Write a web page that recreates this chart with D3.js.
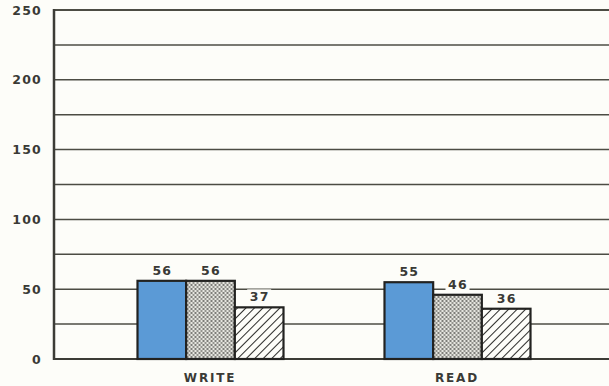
<!DOCTYPE html>
<html>
<head>
<meta charset="utf-8">
<script src="https://cdn.jsdelivr.net/npm/d3@7"></script>
<style>
    body { margin: 0; background: #fdfdf9; }
    svg { display: block; }
    text { font-family: "DejaVu Sans", "Liberation Sans", sans-serif; font-weight: bold; fill: #3a3a36; }
</style>
</head>
<body>
<div id="chart"></div>
<script>
// 数据
var categories = ['WRITE', 'READ'];
var series = ['blue', 'dots', 'hatch'];
var values = [
    [56, 56, 37],   // WRITE
    [55, 46, 36]    // READ
];
var yTicks = [0, 50, 100, 150, 200, 250];
var gridTicks = [25, 50, 75, 100, 125, 150, 175, 200, 225, 250];

var width = 609, height = 386;
var margin = {top: 10, right: 0, bottom: 27, left: 54};

var svg = d3.select('#chart')
    .append('svg')
    .attr('width', width)
    .attr('height', height);

// 图案
var defs = svg.append('defs');

var dots = defs.append('pattern')
    .attr('id', 'dots')
    .attr('patternUnits', 'userSpaceOnUse')
    .attr('width', 4)
    .attr('height', 4);
dots.append('rect').attr('width', 4).attr('height', 4).attr('fill', '#e6e6e0');
dots.append('circle').attr('cx', 1).attr('cy', 1).attr('r', 0.9).attr('fill', '#4a4a46');
dots.append('circle').attr('cx', 3).attr('cy', 3).attr('r', 0.9).attr('fill', '#6a6a66');

var hatch = defs.append('pattern')
    .attr('id', 'hatch')
    .attr('patternUnits', 'userSpaceOnUse')
    .attr('width', 6)
    .attr('height', 6)
    .attr('patternTransform', 'rotate(45)');
hatch.append('rect').attr('width', 6).attr('height', 6).attr('fill', '#fdfdf9');
hatch.append('line')
    .attr('x1', 0).attr('y1', 0).attr('x2', 0).attr('y2', 6)
    .attr('stroke', '#2a2a28').attr('stroke-width', 2);

var fills = {blue: '#5b9ad6', dots: 'url(#dots)', hatch: 'url(#hatch)'};

// 比例尺
var y = d3.scaleLinear()
    .domain([0, 250])
    .range([height - margin.bottom, margin.top]);

var x0 = d3.scaleBand()
    .domain(categories)
    .range([86.5, 580.5])
    .padding(0);

var x1 = d3.scaleBand()
    .domain(series)
    .range([51, 197]);

// 网格线
svg.append('g')
    .selectAll('line')
    .data(gridTicks)
    .enter()
    .append('line')
    .attr('x1', margin.left)
    .attr('x2', width)
    .attr('y1', function (d) { return y(d); })
    .attr('y2', function (d) { return y(d); })
    .attr('stroke', '#4c4c44')
    .attr('stroke-width', function (d) { return d === 250 ? 2 : 1.5; });

// 坐标轴
var yAxis = d3.axisLeft(y)
    .tickValues(yTicks)
    .tickSize(0)
    .tickPadding(12);

var gy = svg.append('g')
    .attr('transform', 'translate(' + margin.left + ',0)')
    .call(yAxis);
gy.select('.domain').remove();
gy.selectAll('text')
    .style('font-size', '12.5px')
    .style('letter-spacing', '1.2px');

svg.append('line')
    .attr('x1', margin.left).attr('x2', margin.left)
    .attr('y1', y(250) - 1).attr('y2', y(0) + 1)
    .attr('stroke', '#3c3c36')
    .attr('stroke-width', 2.5);
svg.append('line')
    .attr('x1', margin.left).attr('x2', width)
    .attr('y1', y(0)).attr('y2', y(0))
    .attr('stroke', '#3c3c36')
    .attr('stroke-width', 2);

var xAxis = d3.axisBottom(x0).tickSize(0).tickPadding(14);
var gx = svg.append('g')
    .attr('transform', 'translate(0,' + y(0) + ')')
    .call(xAxis);
gx.select('.domain').remove();
gx.selectAll('text')
    .style('font-size', '12px')
    .style('letter-spacing', '1.8px');

// 柱子
var groups = svg.append('g')
    .selectAll('g')
    .data(categories)
    .enter()
    .append('g')
    .attr('transform', function (d) { return 'translate(' + x0(d) + ',0)'; });

var bars = groups.selectAll('g')
    .data(function (d, i) {
        return series.map(function (s, j) { return {key: s, value: values[i][j]}; });
    })
    .enter()
    .append('g');

bars.append('rect')
    .attr('x', function (d) { return x1(d.key); })
    .attr('y', function (d) { return y(d.value); })
    .attr('width', x1.bandwidth())
    .attr('height', function (d) { return y(0) - y(d.value); })
    .attr('fill', function (d) { return fills[d.key]; })
    .attr('stroke', '#222220')
    .attr('stroke-width', 2.2);

// 数值标签（带背景遮住网格线）
bars.append('rect')
    .attr('x', function (d) { return x1(d.key) + x1.bandwidth() / 2 - 12; })
    .attr('y', function (d) { return y(d.value) - 18; })
    .attr('width', 24)
    .attr('height', 14)
    .attr('fill', '#fdfdf9');

bars.append('text')
    .attr('x', function (d) { return x1(d.key) + x1.bandwidth() / 2 + 0.5; })
    .attr('y', function (d) { return y(d.value) - 6; })
    .attr('text-anchor', 'middle')
    .style('font-size', '12.5px')
    .style('letter-spacing', '1.2px')
    .text(function (d) { return d.value; });
</script>
</body>
</html>
